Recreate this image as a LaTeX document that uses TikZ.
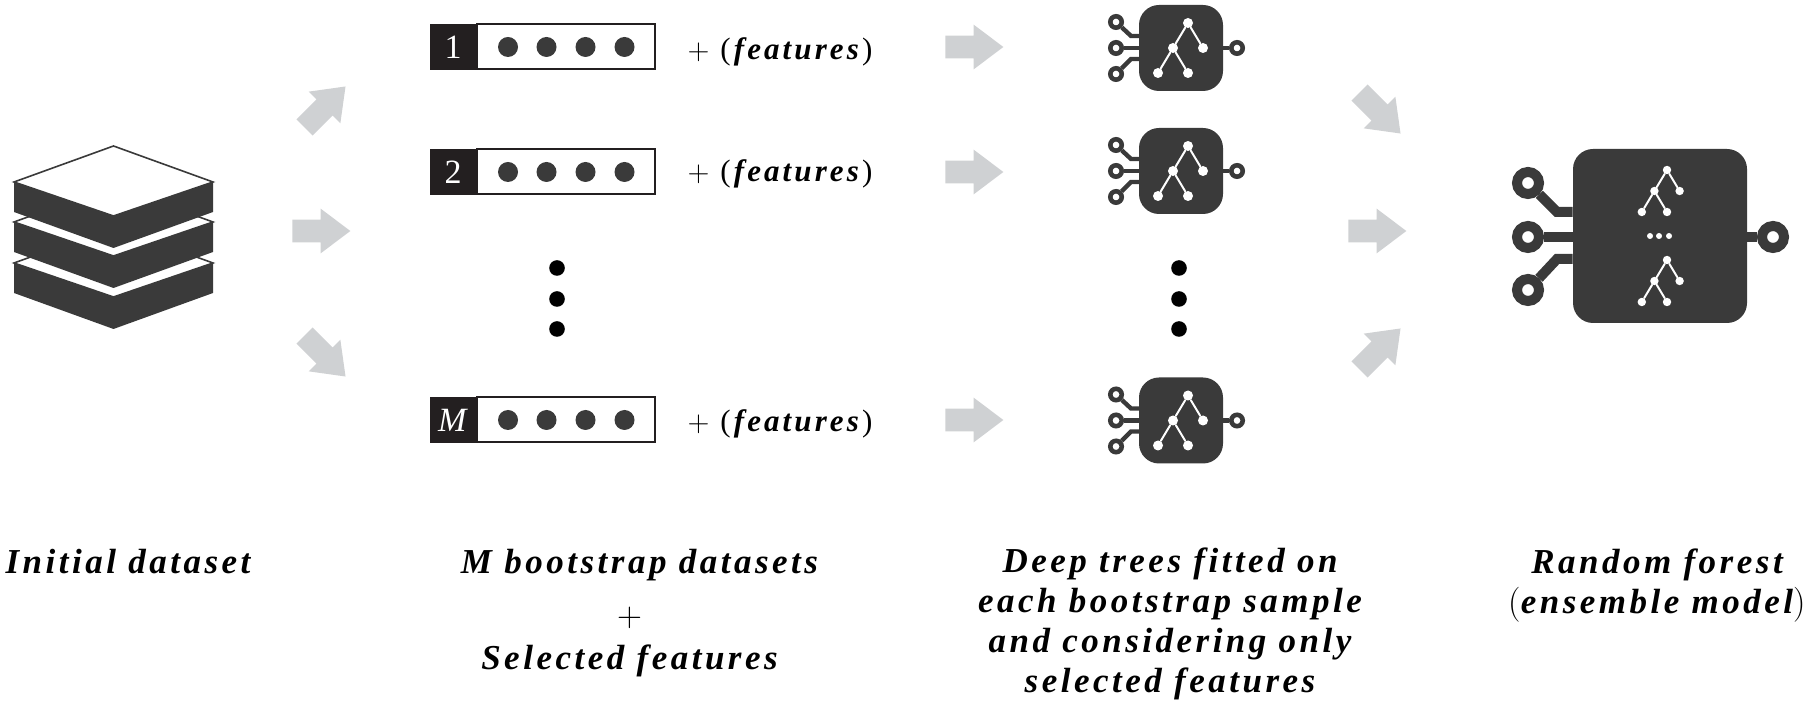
\documentclass[tikz,border=0pt]{standalone}
\usepackage{fontspec}
\newfontfamily\capfont[LetterSpace=10]{Liberation Serif}
\newfontfamily\numfont{Liberation Serif}
\usepackage{xcolor}
\definecolor{chipgray}{HTML}{3A3A3A}
\definecolor{boxblack}{HTML}{231F20}
\definecolor{arrowgray}{HTML}{CFD1D3}
\usetikzlibrary{positioning,shapes.arrows}

\tikzset{
   layer/.pic={
      \fill[chipgray] (-99.5,0) -- (0,34) -- (99.5,0) -- (99.5,30) -- (0,66) -- (-99.5,30) -- cycle;
      \draw[chipgray,fill=white,line width=.8pt] (-99.5,0) -- (0,-36) -- (99.5,0) -- (0,34) -- cycle;
   },
   tree/.pic={
      \node[leaf] (-top) at (0,0) {};
      \node[leaf] (-mid) at (-15,25) {};
      \node[leaf] (-right) at (15,25) {};
      \node[leaf] (-low) at (-30,50) {};
      \node[leaf] (-high) at (0,50) {};
      \path[branch] (-top) edge (-mid) (-top) edge (-right) (-mid) edge (-low) (-mid) edge (-high);
   },
   smallchip/.pic={
      \node[body,minimum width=42pt,minimum height=43pt,rounded corners=10pt] (-body) at (0,0) {};
      \node[port] (-a) at (-65,-26) {};
      \node[port] (-b) at (-65,0) {};
      \node[port] (-c) at (-65,26) {};
      \node[port] (-out) at (56,0) {};
      \draw[wire] (-a) -- (-50,-12) -- (-40,-12);
      \draw[wire] (-b) -- (-40,0);
      \draw[wire] (-c) -- (-50,11) -- (-40,11);
      \draw[wire] (-out) -- (40,0);
      \pic (-tree) at (7,-25) {tree};
   },
   databar/.pic={
      \node[idxbox] (-idx) at (0,0) {#1};
      \node[barbox] (-bar) [right=0pt of -idx] {};
      \node[datadot] (-d1) at (55,0) {};
      \node[datadot] (-d2) at (93.5,0) {};
      \node[datadot] (-d3) at (132.5,0) {};
      \node[datadot] (-d4) at (171.5,0) {};
   },
}

\begin{document}
\begin{tikzpicture}[x=.5pt, y=-.5pt, line cap=round]
   \tikzstyle{leaf}=[circle, fill=white, inner sep=0pt, minimum size=5pt]
   \tikzstyle{branch}=[white, line width=1pt]
   \tikzstyle{body}=[fill=chipgray, inner sep=0pt]
   \tikzstyle{port}=[circle, draw=chipgray, fill=white, line width=2.3pt, inner sep=0pt, minimum size=5.7pt]
   \tikzstyle{bigport}=[circle, draw=chipgray, fill=white, line width=5pt, inner sep=0pt, minimum size=11pt]
   \tikzstyle{wire}=[chipgray, line width=2.2pt, line cap=butt]
   \tikzstyle{bigwire}=[chipgray, line width=5pt, line cap=butt]
   \tikzstyle{idxbox}=[fill=boxblack, text=white, inner sep=0pt, minimum width=23pt, minimum height=23pt, font=\numfont\fontsize{17}{17}\selectfont]
   \tikzstyle{barbox}=[draw=boxblack, line width=1pt, inner sep=0pt, minimum width=89pt, minimum height=22.5pt]
   \tikzstyle{datadot}=[circle, fill=chipgray, inner sep=0pt, minimum size=10pt]
   \tikzstyle{vdot}=[circle, fill=black, inner sep=0pt, minimum size=7.8pt]
   \tikzstyle{flow}=[single arrow, anchor=tip, fill=arrowgray, inner xsep=0pt, inner ysep=5.5pt, minimum height=29pt, single arrow head extend=5.5pt, single arrow tip angle=74, single arrow head indent=0pt]
   \tikzstyle{feat}=[font=\capfont\fontsize{15.5}{15.5}\selectfont]
   \tikzstyle{legend}=[font=\capfont\fontsize{17.5}{20}\selectfont\bfseries\itshape, align=center]

   \useasboundingbox (0,0) rectangle (1808,704);

   \pic (layer3) at (113.5,263) {layer};
   \pic (layer2) at (113.5,222) {layer};
   \pic (layer1) at (113.5,182) {layer};

   \node[flow,rotate=45] (split_top) at (346,86) {};
   \node[flow] (split_mid) at (351,231) {};
   \node[flow,rotate=-45] (split_low) at (346,377) {};

   \pic (bar1) at (453,47) {databar={1}};
   \pic (bar2) at (453,172) {databar={2}};
   \pic (barM) at (453,420) {databar={\textit{M}}};

   \node[feat] (feat1) at (780,52) {$+$ (\textbf{\textit{features}})};
   \node[feat] (feat2) at (780,174) {$+$ (\textbf{\textit{features}})};
   \node[feat] (featM) at (780,424) {$+$ (\textbf{\textit{features}})};

   \node[vdot] (dots_a) at (557,268) {};
   \node[vdot] (dots_b) at (557,299) {};
   \node[vdot] (dots_c) at (557,329) {};

   \node[flow] (fit1) at (1004,47) {};
   \node[flow] (fit2) at (1004,172) {};
   \node[flow] (fitM) at (1004,420) {};

   \pic (chip1) at (1181,48) {smallchip};
   \pic (chip2) at (1181,171) {smallchip};
   \pic (chipM) at (1181,420.5) {smallchip};

   \node[vdot] (more_a) at (1179,268) {};
   \node[vdot] (more_b) at (1179,299) {};
   \node[vdot] (more_c) at (1179,329) {};

   \node[flow,rotate=-45] (join_top) at (1401,134) {};
   \node[flow] (join_mid) at (1407,231) {};
   \node[flow,rotate=45] (join_low) at (1401,328) {};

   % ensemble model
   \node[body,minimum width=87pt,minimum height=87pt,rounded corners=10pt] (forest) at (1660,236) {};
   \node[bigport] (forest_a) at (1528,183) {};
   \node[bigport] (forest_b) at (1528,237) {};
   \node[bigport] (forest_c) at (1528,290) {};
   \node[bigport] (forest_out) at (1773,237) {};
   \coordinate (bend_a) at (1557,212);
   \coordinate (bend_c) at (1557,259);
   \draw[bigwire] (forest_a) -- (bend_a) -- (forest.west |- bend_a);
   \draw[bigwire] (forest_b) -- (forest.west |- forest_b);
   \draw[bigwire] (forest_c) -- (bend_c) -- (forest.west |- bend_c);
   \draw[bigwire] (forest_out) -- (forest.east |- forest_out);
   \pic[scale=.84,transform shape] (tree_a) at (1667,170) {tree};
   \pic[scale=.84,transform shape] (tree_b) at (1667,260) {tree};
   \node[leaf,minimum size=3pt] (gap_a) at (1650,236) {};
   \node[leaf,minimum size=3pt] (gap_b) at (1659,236) {};
   \node[leaf,minimum size=3pt] (gap_c) at (1669,236) {};

   \node[legend,anchor=base] (cap_data) at (128,574) {Initial dataset};
   \node[legend,anchor=base] (cap_boot) at (639.5,574) {M bootstrap datasets};
   \node[legend,font=\fontsize{18}{18}\selectfont] (cap_plus) at (629.5,618) {$+$};
   \node[legend,anchor=base] (cap_sel) at (629.5,669) {Selected features};
   \node[legend] (cap_trees) at (1170,624) {Deep trees fitted on\\each bootstrap sample\\and considering only\\selected features};
   \node[legend] (cap_forest) at (1657,586) {Random forest\\{\normalfont(}ensemble model{\normalfont)}};
\end{tikzpicture}
\end{document}
